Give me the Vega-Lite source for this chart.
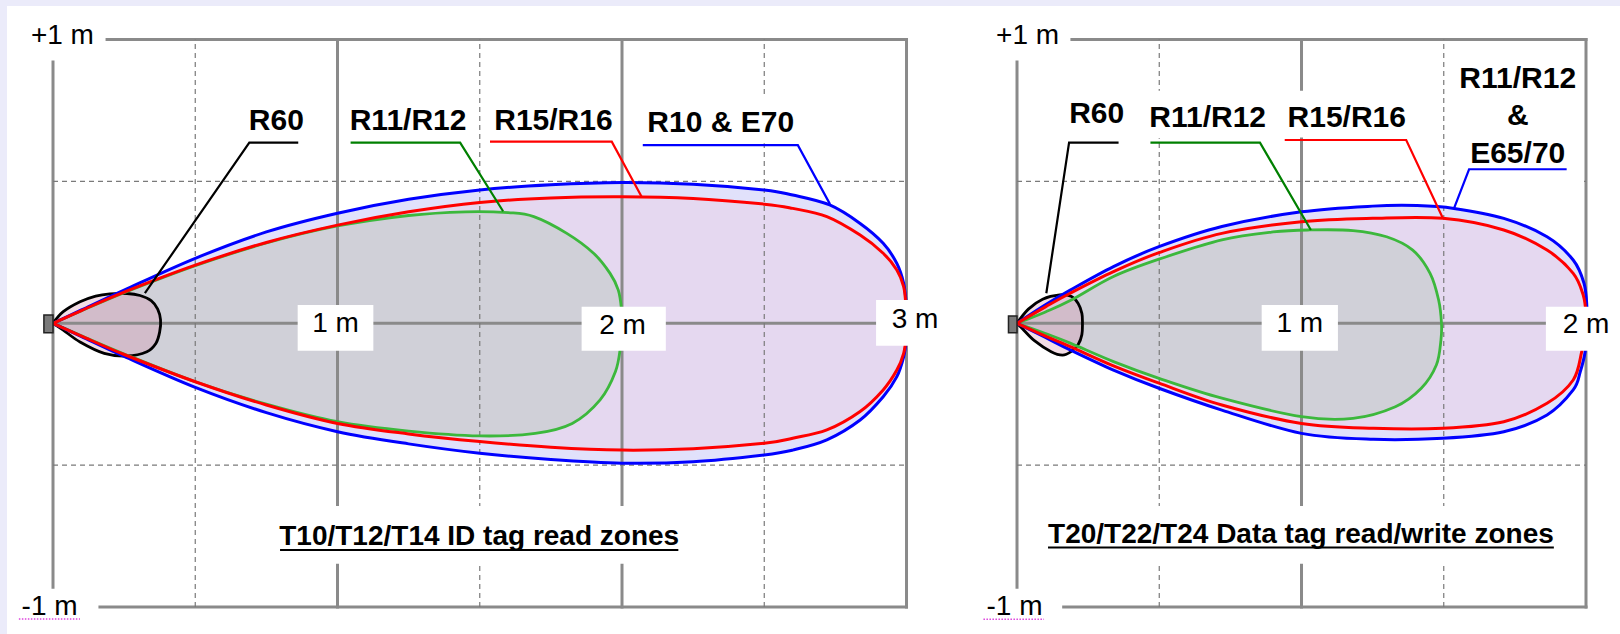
{
"$schema": "https://vega.github.io/schema/vega-lite/v6.json",
"background": "#ebebfa",
"padding": {"left": 7, "top": 6, "right": 0, "bottom": 0},
"config": {"view": {"stroke": null, "fill": "white"}},
"spacing": 0,
"bounds": "flush",
"datasets": {
"curves": [
{"p":"L","z":"blue","i":0,"x":0,"y":0},{"p":"L","z":"blue","i":1,"x":0.1,"y":0.047},{"p":"L","z":"blue","i":2,"x":0.25,"y":0.117},{"p":"L","z":"blue","i":3,"x":0.5,"y":0.229},{"p":"L","z":"blue","i":4,"x":0.75,"y":0.322},{"p":"L","z":"blue","i":5,"x":1.0,"y":0.388},{"p":"L","z":"blue","i":6,"x":1.25,"y":0.437},{"p":"L","z":"blue","i":7,"x":1.5,"y":0.47},{"p":"L","z":"blue","i":8,"x":1.75,"y":0.488},{"p":"L","z":"blue","i":9,"x":2.0,"y":0.496},{"p":"L","z":"blue","i":10,"x":2.25,"y":0.49},{"p":"L","z":"blue","i":11,"x":2.5,"y":0.47},{"p":"L","z":"blue","i":12,"x":2.6,"y":0.452},{"p":"L","z":"blue","i":13,"x":2.73,"y":0.417},{"p":"L","z":"blue","i":14,"x":2.837,"y":0.352},{"p":"L","z":"blue","i":15,"x":2.918,"y":0.282},{"p":"L","z":"blue","i":16,"x":2.966,"y":0.211},{"p":"L","z":"blue","i":17,"x":2.99,"y":0.141},{"p":"L","z":"blue","i":18,"x":2.999,"y":0.07},{"p":"L","z":"blue","i":19,"x":3.002,"y":0},{"p":"L","z":"blue","i":20,"x":2.999,"y":-0.06},{"p":"L","z":"blue","i":21,"x":2.99,"y":-0.118},{"p":"L","z":"blue","i":22,"x":2.966,"y":-0.188},{"p":"L","z":"blue","i":23,"x":2.918,"y":-0.259},{"p":"L","z":"blue","i":24,"x":2.837,"y":-0.341},{"p":"L","z":"blue","i":25,"x":2.72,"y":-0.411},{"p":"L","z":"blue","i":26,"x":2.6,"y":-0.447},{"p":"L","z":"blue","i":27,"x":2.5,"y":-0.464},{"p":"L","z":"blue","i":28,"x":2.25,"y":-0.488},{"p":"L","z":"blue","i":29,"x":2.0,"y":-0.493},{"p":"L","z":"blue","i":30,"x":1.75,"y":-0.48},{"p":"L","z":"blue","i":31,"x":1.5,"y":-0.458},{"p":"L","z":"blue","i":32,"x":1.25,"y":-0.425},{"p":"L","z":"blue","i":33,"x":1.0,"y":-0.382},{"p":"L","z":"blue","i":34,"x":0.75,"y":-0.315},{"p":"L","z":"blue","i":35,"x":0.5,"y":-0.226},{"p":"L","z":"blue","i":36,"x":0.25,"y":-0.117},{"p":"L","z":"blue","i":37,"x":0.1,"y":-0.047},{"p":"L","z":"blue","i":38,"x":0,"y":0},
{"p":"L","z":"red","i":0,"x":0,"y":0},{"p":"L","z":"red","i":1,"x":0.1,"y":0.045},{"p":"L","z":"red","i":2,"x":0.25,"y":0.11},{"p":"L","z":"red","i":3,"x":0.5,"y":0.205},{"p":"L","z":"red","i":4,"x":0.75,"y":0.285},{"p":"L","z":"red","i":5,"x":1.0,"y":0.346},{"p":"L","z":"red","i":6,"x":1.25,"y":0.393},{"p":"L","z":"red","i":7,"x":1.5,"y":0.426},{"p":"L","z":"red","i":8,"x":1.75,"y":0.442},{"p":"L","z":"red","i":9,"x":2.0,"y":0.446},{"p":"L","z":"red","i":10,"x":2.25,"y":0.44},{"p":"L","z":"red","i":11,"x":2.5,"y":0.42},{"p":"L","z":"red","i":12,"x":2.6,"y":0.405},{"p":"L","z":"red","i":13,"x":2.72,"y":0.376},{"p":"L","z":"red","i":14,"x":2.837,"y":0.311},{"p":"L","z":"red","i":15,"x":2.918,"y":0.247},{"p":"L","z":"red","i":16,"x":2.966,"y":0.188},{"p":"L","z":"red","i":17,"x":2.99,"y":0.129},{"p":"L","z":"red","i":18,"x":2.998,"y":0.06},{"p":"L","z":"red","i":19,"x":3.0,"y":0},{"p":"L","z":"red","i":20,"x":2.998,"y":-0.05},{"p":"L","z":"red","i":21,"x":2.99,"y":-0.106},{"p":"L","z":"red","i":22,"x":2.966,"y":-0.165},{"p":"L","z":"red","i":23,"x":2.918,"y":-0.235},{"p":"L","z":"red","i":24,"x":2.837,"y":-0.311},{"p":"L","z":"red","i":25,"x":2.72,"y":-0.376},{"p":"L","z":"red","i":26,"x":2.6,"y":-0.405},{"p":"L","z":"red","i":27,"x":2.5,"y":-0.423},{"p":"L","z":"red","i":28,"x":2.25,"y":-0.442},{"p":"L","z":"red","i":29,"x":2.0,"y":-0.447},{"p":"L","z":"red","i":30,"x":1.75,"y":-0.437},{"p":"L","z":"red","i":31,"x":1.5,"y":-0.417},{"p":"L","z":"red","i":32,"x":1.25,"y":-0.39},{"p":"L","z":"red","i":33,"x":1.0,"y":-0.353},{"p":"L","z":"red","i":34,"x":0.75,"y":-0.288},{"p":"L","z":"red","i":35,"x":0.5,"y":-0.206},{"p":"L","z":"red","i":36,"x":0.25,"y":-0.11},{"p":"L","z":"red","i":37,"x":0.1,"y":-0.045},{"p":"L","z":"red","i":38,"x":0,"y":0},
{"p":"L","z":"green","i":0,"x":0,"y":0},{"p":"L","z":"green","i":1,"x":0.1,"y":0.044},{"p":"L","z":"green","i":2,"x":0.25,"y":0.108},{"p":"L","z":"green","i":3,"x":0.5,"y":0.203},{"p":"L","z":"green","i":4,"x":0.75,"y":0.283},{"p":"L","z":"green","i":5,"x":1.0,"y":0.343},{"p":"L","z":"green","i":6,"x":1.25,"y":0.38},{"p":"L","z":"green","i":7,"x":1.45,"y":0.393},{"p":"L","z":"green","i":8,"x":1.6,"y":0.39},{"p":"L","z":"green","i":9,"x":1.69,"y":0.376},{"p":"L","z":"green","i":10,"x":1.806,"y":0.317},{"p":"L","z":"green","i":11,"x":1.9,"y":0.247},{"p":"L","z":"green","i":12,"x":1.958,"y":0.176},{"p":"L","z":"green","i":13,"x":1.987,"y":0.117},{"p":"L","z":"green","i":14,"x":1.998,"y":0.05},{"p":"L","z":"green","i":15,"x":2.0,"y":-0.02},{"p":"L","z":"green","i":16,"x":1.995,"y":-0.08},{"p":"L","z":"green","i":17,"x":1.977,"y":-0.17},{"p":"L","z":"green","i":18,"x":1.923,"y":-0.27},{"p":"L","z":"green","i":19,"x":1.825,"y":-0.353},{"p":"L","z":"green","i":20,"x":1.695,"y":-0.388},{"p":"L","z":"green","i":21,"x":1.5,"y":-0.397},{"p":"L","z":"green","i":22,"x":1.25,"y":-0.38},{"p":"L","z":"green","i":23,"x":1.0,"y":-0.347},{"p":"L","z":"green","i":24,"x":0.75,"y":-0.285},{"p":"L","z":"green","i":25,"x":0.5,"y":-0.206},{"p":"L","z":"green","i":26,"x":0.25,"y":-0.108},{"p":"L","z":"green","i":27,"x":0.1,"y":-0.044},{"p":"L","z":"green","i":28,"x":0,"y":0},
{"p":"L","z":"black","i":0,"x":0,"y":0},{"p":"L","z":"black","i":1,"x":0.036,"y":0.041},{"p":"L","z":"black","i":2,"x":0.095,"y":0.076},{"p":"L","z":"black","i":3,"x":0.15,"y":0.096},{"p":"L","z":"black","i":4,"x":0.2,"y":0.104},{"p":"L","z":"black","i":5,"x":0.26,"y":0.105},{"p":"L","z":"black","i":6,"x":0.306,"y":0.098},{"p":"L","z":"black","i":7,"x":0.345,"y":0.08},{"p":"L","z":"black","i":8,"x":0.368,"y":0.05},{"p":"L","z":"black","i":9,"x":0.378,"y":0.012},{"p":"L","z":"black","i":10,"x":0.375,"y":-0.03},{"p":"L","z":"black","i":11,"x":0.362,"y":-0.07},{"p":"L","z":"black","i":12,"x":0.33,"y":-0.1},{"p":"L","z":"black","i":13,"x":0.26,"y":-0.115},{"p":"L","z":"black","i":14,"x":0.18,"y":-0.106},{"p":"L","z":"black","i":15,"x":0.095,"y":-0.066},{"p":"L","z":"black","i":16,"x":0.036,"y":-0.024},{"p":"L","z":"black","i":17,"x":0,"y":0},
{"p":"R","z":"blue","i":0,"x":0,"y":0},{"p":"R","z":"blue","i":1,"x":0.1,"y":0.065},{"p":"R","z":"blue","i":2,"x":0.187,"y":0.117},{"p":"R","z":"blue","i":3,"x":0.339,"y":0.2},{"p":"R","z":"blue","i":4,"x":0.499,"y":0.27},{"p":"R","z":"blue","i":5,"x":0.72,"y":0.341},{"p":"R","z":"blue","i":6,"x":1.0,"y":0.393},{"p":"R","z":"blue","i":7,"x":1.25,"y":0.413},{"p":"R","z":"blue","i":8,"x":1.406,"y":0.415},{"p":"R","z":"blue","i":9,"x":1.536,"y":0.405},{"p":"R","z":"blue","i":10,"x":1.711,"y":0.37},{"p":"R","z":"blue","i":11,"x":1.863,"y":0.305},{"p":"R","z":"blue","i":12,"x":1.955,"y":0.223},{"p":"R","z":"blue","i":13,"x":1.993,"y":0.141},{"p":"R","z":"blue","i":14,"x":2.003,"y":0.059},{"p":"R","z":"blue","i":15,"x":2.003,"y":-0.02},{"p":"R","z":"blue","i":16,"x":1.997,"y":-0.1},{"p":"R","z":"blue","i":17,"x":1.98,"y":-0.17},{"p":"R","z":"blue","i":18,"x":1.955,"y":-0.235},{"p":"R","z":"blue","i":19,"x":1.863,"y":-0.323},{"p":"R","z":"blue","i":20,"x":1.711,"y":-0.382},{"p":"R","z":"blue","i":21,"x":1.497,"y":-0.405},{"p":"R","z":"blue","i":22,"x":1.253,"y":-0.409},{"p":"R","z":"blue","i":23,"x":1.0,"y":-0.388},{"p":"R","z":"blue","i":24,"x":0.72,"y":-0.306},{"p":"R","z":"blue","i":25,"x":0.499,"y":-0.229},{"p":"R","z":"blue","i":26,"x":0.339,"y":-0.165},{"p":"R","z":"blue","i":27,"x":0.187,"y":-0.094},{"p":"R","z":"blue","i":28,"x":0.1,"y":-0.05},{"p":"R","z":"blue","i":29,"x":0,"y":0},
{"p":"R","z":"red","i":0,"x":0,"y":0},{"p":"R","z":"red","i":1,"x":0.1,"y":0.058},{"p":"R","z":"red","i":2,"x":0.187,"y":0.106},{"p":"R","z":"red","i":3,"x":0.339,"y":0.182},{"p":"R","z":"red","i":4,"x":0.499,"y":0.249},{"p":"R","z":"red","i":5,"x":0.72,"y":0.317},{"p":"R","z":"red","i":6,"x":1.0,"y":0.358},{"p":"R","z":"red","i":7,"x":1.25,"y":0.37},{"p":"R","z":"red","i":8,"x":1.497,"y":0.37},{"p":"R","z":"red","i":9,"x":1.711,"y":0.329},{"p":"R","z":"red","i":10,"x":1.863,"y":0.258},{"p":"R","z":"red","i":11,"x":1.955,"y":0.176},{"p":"R","z":"red","i":12,"x":1.99,"y":0.1},{"p":"R","z":"red","i":13,"x":2.0,"y":0.03},{"p":"R","z":"red","i":14,"x":1.998,"y":-0.03},{"p":"R","z":"red","i":15,"x":1.985,"y":-0.1},{"p":"R","z":"red","i":16,"x":1.955,"y":-0.2},{"p":"R","z":"red","i":17,"x":1.863,"y":-0.282},{"p":"R","z":"red","i":18,"x":1.711,"y":-0.347},{"p":"R","z":"red","i":19,"x":1.497,"y":-0.37},{"p":"R","z":"red","i":20,"x":1.253,"y":-0.37},{"p":"R","z":"red","i":21,"x":1.0,"y":-0.353},{"p":"R","z":"red","i":22,"x":0.72,"y":-0.288},{"p":"R","z":"red","i":23,"x":0.499,"y":-0.211},{"p":"R","z":"red","i":24,"x":0.339,"y":-0.15},{"p":"R","z":"red","i":25,"x":0.187,"y":-0.082},{"p":"R","z":"red","i":26,"x":0.1,"y":-0.045},{"p":"R","z":"red","i":27,"x":0,"y":0},
{"p":"R","z":"green","i":0,"x":0,"y":0},{"p":"R","z":"green","i":1,"x":0.1,"y":0.04},{"p":"R","z":"green","i":2,"x":0.187,"y":0.08},{"p":"R","z":"green","i":3,"x":0.339,"y":0.165},{"p":"R","z":"green","i":4,"x":0.499,"y":0.226},{"p":"R","z":"green","i":5,"x":0.72,"y":0.294},{"p":"R","z":"green","i":6,"x":0.9,"y":0.322},{"p":"R","z":"green","i":7,"x":1.028,"y":0.329},{"p":"R","z":"green","i":8,"x":1.181,"y":0.327},{"p":"R","z":"green","i":9,"x":1.299,"y":0.305},{"p":"R","z":"green","i":10,"x":1.391,"y":0.258},{"p":"R","z":"green","i":11,"x":1.452,"y":0.176},{"p":"R","z":"green","i":12,"x":1.482,"y":0.082},{"p":"R","z":"green","i":13,"x":1.492,"y":0},{"p":"R","z":"green","i":14,"x":1.49,"y":-0.06},{"p":"R","z":"green","i":15,"x":1.474,"y":-0.147},{"p":"R","z":"green","i":16,"x":1.421,"y":-0.229},{"p":"R","z":"green","i":17,"x":1.33,"y":-0.294},{"p":"R","z":"green","i":18,"x":1.181,"y":-0.335},{"p":"R","z":"green","i":19,"x":1.0,"y":-0.329},{"p":"R","z":"green","i":20,"x":0.72,"y":-0.264},{"p":"R","z":"green","i":21,"x":0.499,"y":-0.194},{"p":"R","z":"green","i":22,"x":0.339,"y":-0.135},{"p":"R","z":"green","i":23,"x":0.187,"y":-0.07},{"p":"R","z":"green","i":24,"x":0.1,"y":-0.036},{"p":"R","z":"green","i":25,"x":0,"y":0},
{"p":"R","z":"black","i":0,"x":0,"y":0},{"p":"R","z":"black","i":1,"x":0.04,"y":0.05},{"p":"R","z":"black","i":2,"x":0.09,"y":0.085},{"p":"R","z":"black","i":3,"x":0.15,"y":0.1},{"p":"R","z":"black","i":4,"x":0.19,"y":0.095},{"p":"R","z":"black","i":5,"x":0.215,"y":0.07},{"p":"R","z":"black","i":6,"x":0.228,"y":0.035},{"p":"R","z":"black","i":7,"x":0.23,"y":0},{"p":"R","z":"black","i":8,"x":0.228,"y":-0.04},{"p":"R","z":"black","i":9,"x":0.215,"y":-0.075},{"p":"R","z":"black","i":10,"x":0.19,"y":-0.1},{"p":"R","z":"black","i":11,"x":0.16,"y":-0.112},{"p":"R","z":"black","i":12,"x":0.12,"y":-0.1},{"p":"R","z":"black","i":13,"x":0.06,"y":-0.06},{"p":"R","z":"black","i":14,"x":0.02,"y":-0.02},{"p":"R","z":"black","i":15,"x":0,"y":0}
],
"grid": [
{"p":"L","k":"s","x":0,"y":-0.93,"x2":0,"y2":0.921},{"p":"L","k":"s","x":1,"y":-1,"x2":1,"y2":1},{"p":"L","k":"s","x":2,"y":-1,"x2":2,"y2":1},{"p":"L","k":"s","x":3,"y":-1,"x2":3,"y2":1},{"p":"L","k":"s","x":0.19,"y":1,"x2":3,"y2":1},{"p":"L","k":"s","x":0.165,"y":-1,"x2":3,"y2":-1},{"p":"L","k":"s","x":0,"y":0,"x2":3,"y2":0},
{"p":"L","k":"d","x":0.5,"y":-1,"x2":0.5,"y2":1},{"p":"L","k":"d","x":1.5,"y":-1,"x2":1.5,"y2":1},{"p":"L","k":"d","x":2.5,"y":-1,"x2":2.5,"y2":1},{"p":"L","k":"d","x":0,"y":0.5,"x2":3,"y2":0.5},{"p":"L","k":"d","x":0,"y":-0.5,"x2":3,"y2":-0.5},
{"p":"L","k":"u","x":0.798,"y":-0.799,"x2":2.198,"y2":-0.799},{"p":"L","k":"m","x":-0.12,"y":-1.042,"x2":0.095,"y2":-1.042},
{"p":"R","k":"s","x":0,"y":-0.93,"x2":0,"y2":0.921},{"p":"R","k":"s","x":1,"y":-1,"x2":1,"y2":1},{"p":"R","k":"s","x":2,"y":-1,"x2":2,"y2":1},{"p":"R","k":"s","x":0.193,"y":1,"x2":2,"y2":1},{"p":"R","k":"s","x":0.164,"y":-1,"x2":2,"y2":-1},{"p":"R","k":"s","x":0,"y":0,"x2":2,"y2":0},
{"p":"R","k":"d","x":0.5,"y":-1,"x2":0.5,"y2":1},{"p":"R","k":"d","x":1.5,"y":-1,"x2":1.5,"y2":1},{"p":"R","k":"d","x":0,"y":0.5,"x2":2,"y2":0.5},{"p":"R","k":"d","x":0,"y":-0.5,"x2":2,"y2":-0.5},
{"p":"R","k":"u","x":0.109,"y":-0.79,"x2":1.887,"y2":-0.79},{"p":"R","k":"m","x":-0.118,"y":-1.043,"x2":0.095,"y2":-1.043}
],
"boxes": [
{"p":"L","x":0.86,"x2":1.126,"y":-0.0966,"y2":0.0645},{"p":"L","x":1.858,"x2":2.154,"y":-0.0966,"y2":0.0585},{"p":"L","x":2.893,"x2":3.17,"y":-0.079,"y2":0.082},{"p":"L","x":0.763,"x2":2.239,"y":-0.848,"y2":-0.644},{"p":"L","x":2.063,"x2":2.626,"y":0.635,"y2":0.797},
{"p":"R","x":0.86,"x2":1.128,"y":-0.0966,"y2":0.0645},{"p":"R","x":1.859,"x2":2.119,"y":-0.0966,"y2":0.0585},{"p":"R","x":0.08,"x2":1.92,"y":-0.848,"y2":-0.644},{"p":"R","x":0.45,"x2":0.89,"y":0.652,"y2":0.82},{"p":"R","x":0.94,"x2":1.375,"y":0.655,"y2":0.82},{"p":"R","x":1.522,"x2":1.979,"y":0.495,"y2":0.928}
],
"origin": [
{"p":"L","x":-0.032,"x2":0,"y":-0.033,"y2":0.029},{"p":"R","x":-0.03,"x2":0,"y":-0.033,"y2":0.026}
],
"leaders": [
{"p":"L","z":"black","i":0,"x":0.862,"y":0.637},{"p":"L","z":"black","i":1,"x":0.69,"y":0.637},{"p":"L","z":"black","i":2,"x":0.323,"y":0.106},
{"p":"L","z":"green","i":0,"x":1.046,"y":0.637},{"p":"L","z":"green","i":1,"x":1.431,"y":0.637},{"p":"L","z":"green","i":2,"x":1.582,"y":0.395},
{"p":"L","z":"red","i":0,"x":1.536,"y":0.64},{"p":"L","z":"red","i":1,"x":1.964,"y":0.64},{"p":"L","z":"red","i":2,"x":2.069,"y":0.446},
{"p":"L","z":"blue","i":0,"x":2.073,"y":0.628},{"p":"L","z":"blue","i":1,"x":2.618,"y":0.628},{"p":"L","z":"blue","i":2,"x":2.731,"y":0.42},
{"p":"R","z":"black","i":0,"x":0.357,"y":0.637},{"p":"R","z":"black","i":1,"x":0.183,"y":0.637},{"p":"R","z":"black","i":2,"x":0.103,"y":0.106},
{"p":"R","z":"green","i":0,"x":0.469,"y":0.637},{"p":"R","z":"green","i":1,"x":0.854,"y":0.637},{"p":"R","z":"green","i":2,"x":1.033,"y":0.329},
{"p":"R","z":"red","i":0,"x":0.941,"y":0.646},{"p":"R","z":"red","i":1,"x":1.368,"y":0.646},{"p":"R","z":"red","i":2,"x":1.497,"y":0.37},
{"p":"R","z":"blue","i":0,"x":1.932,"y":0.543},{"p":"R","z":"blue","i":1,"x":1.589,"y":0.543},{"p":"R","z":"blue","i":2,"x":1.536,"y":0.405}
],
"labels": [
{"p":"L","k":"b","t":"R60","x":0.785,"y":0.681},{"p":"L","k":"b","t":"R11/R12","x":1.248,"y":0.681},{"p":"L","k":"b","t":"R15/R16","x":1.759,"y":0.681},{"p":"L","k":"b","t":"R10 & E70","x":2.347,"y":0.675},
{"p":"L","k":"a","t":"+1 m","x":0.033,"y":0.985},{"p":"L","k":"a","t":"-1 m","x":-0.012,"y":-1.028},{"p":"L","k":"a","t":"1 m","x":0.993,"y":-0.03},{"p":"L","k":"a","t":"2 m","x":2.002,"y":-0.038},{"p":"L","k":"a","t":"3 m","x":3.03,"y":-0.018},
{"p":"L","k":"t","t":"T10/T12/T14 ID tag read zones","x":1.498,"y":-0.781},
{"p":"R","k":"b","t":"R60","x":0.28,"y":0.705},{"p":"R","k":"b","t":"R11/R12","x":0.67,"y":0.693},{"p":"R","k":"b","t":"R15/R16","x":1.159,"y":0.691},{"p":"R","k":"b","t":"R11/R12","x":1.76,"y":0.828},{"p":"R","k":"b","t":"&","x":1.76,"y":0.699},{"p":"R","k":"b","t":"E65/70","x":1.76,"y":0.564},
{"p":"R","k":"a","t":"+1 m","x":0.037,"y":0.985},{"p":"R","k":"a","t":"-1 m","x":-0.009,"y":-1.028},{"p":"R","k":"a","t":"1 m","x":0.994,"y":-0.03},{"p":"R","k":"a","t":"2 m","x":2.0,"y":-0.035},
{"p":"R","k":"t","t":"T20/T22/T24 Data tag read/write zones","x":0.998,"y":-0.775}
]
},
"hconcat": [
{
"width": 953, "height": 628,
"encoding": {
"x": {"field":"x","type":"quantitative","scale":{"domain":[-0.1617,3.188],"nice":false,"zero":false},"axis":null},
"y": {"field":"y","type":"quantitative","scale":{"domain":[-1.0952,1.1184],"nice":false,"zero":false},"axis":null}
},
"layer": [
{"data":{"name":"curves"},"transform":[{"filter":"datum.p=='L' && datum.z=='blue'"}],"mark":{"type":"line","interpolate":"cardinal","filled":true,"color":"#e1e1fb"},"encoding":{"order":{"field":"i","type":"quantitative"}}},
{"data":{"name":"curves"},"transform":[{"filter":"datum.p=='L' && datum.z=='red'"}],"mark":{"type":"line","interpolate":"cardinal","filled":true,"color":"#e5d8f0"},"encoding":{"order":{"field":"i","type":"quantitative"}}},
{"data":{"name":"curves"},"transform":[{"filter":"datum.p=='L' && datum.z=='green'"}],"mark":{"type":"line","interpolate":"cardinal","filled":true,"color":"#d0d0d8"},"encoding":{"order":{"field":"i","type":"quantitative"}}},
{"data":{"name":"curves"},"transform":[{"filter":"datum.p=='L' && datum.z=='black'"}],"mark":{"type":"line","interpolate":"cardinal","filled":true,"color":"#d890a8","opacity":0.3},"encoding":{"order":{"field":"i","type":"quantitative"}}},
{"data":{"name":"grid"},"transform":[{"filter":"datum.p=='L' && datum.k=='s'"}],"mark":{"type":"rule","color":"#8a8a8a","strokeWidth":3,"strokeCap":"square"},"encoding":{"x2":{"field":"x2"},"y2":{"field":"y2"}}},
{"data":{"name":"grid"},"transform":[{"filter":"datum.p=='L' && datum.k=='d'"}],"mark":{"type":"rule","color":"#7a7a7a","strokeWidth":1.2,"strokeDash":[5,4]},"encoding":{"x2":{"field":"x2"},"y2":{"field":"y2"}}},
{"data":{"name":"curves"},"transform":[{"filter":"datum.p=='L' && datum.z=='black'"}],"mark":{"type":"line","interpolate":"cardinal","color":"#000000","strokeWidth":2.8},"encoding":{"order":{"field":"i","type":"quantitative"}}},
{"data":{"name":"curves"},"transform":[{"filter":"datum.p=='L' && datum.z=='green'"}],"mark":{"type":"line","interpolate":"cardinal","color":"#3cb83c","strokeWidth":2.8},"encoding":{"order":{"field":"i","type":"quantitative"}}},
{"data":{"name":"curves"},"transform":[{"filter":"datum.p=='L' && datum.z=='blue'"}],"mark":{"type":"line","interpolate":"cardinal","color":"#0000ff","strokeWidth":3},"encoding":{"order":{"field":"i","type":"quantitative"}}},
{"data":{"name":"curves"},"transform":[{"filter":"datum.p=='L' && datum.z=='red'"}],"mark":{"type":"line","interpolate":"cardinal","color":"#ff0000","strokeWidth":3},"encoding":{"order":{"field":"i","type":"quantitative"}}},
{"data":{"name":"boxes"},"transform":[{"filter":"datum.p=='L'"}],"mark":{"type":"rect","color":"#ffffff"},"encoding":{"x2":{"field":"x2"},"y2":{"field":"y2"}}},
{"data":{"name":"leaders"},"transform":[{"filter":"datum.p=='L'"}],"mark":{"type":"line","strokeWidth":2.2},"encoding":{"order":{"field":"i","type":"quantitative"},"color":{"field":"z","type":"nominal","scale":{"domain":["black","green","red","blue"],"range":["#000000","#008000","#ff0000","#0000ff"]},"legend":null}}},
{"data":{"name":"grid"},"transform":[{"filter":"datum.p=='L' && datum.k=='u'"}],"mark":{"type":"rule","color":"#000000","strokeWidth":2},"encoding":{"x2":{"field":"x2"},"y2":{"field":"y2"}}},
{"data":{"name":"grid"},"transform":[{"filter":"datum.p=='L' && datum.k=='m'"}],"mark":{"type":"rule","color":"#dd44dd","strokeWidth":1.5,"strokeDash":[1.5,1.5]},"encoding":{"x2":{"field":"x2"},"y2":{"field":"y2"}}},
{"data":{"name":"origin"},"transform":[{"filter":"datum.p=='L'"}],"mark":{"type":"rect","fill":"#7a7a7a","stroke":"#222222","strokeWidth":1.5},"encoding":{"x2":{"field":"x2"},"y2":{"field":"y2"}}},
{"data":{"name":"labels"},"transform":[{"filter":"datum.p=='L' && datum.k=='b'"}],"mark":{"type":"text","font":"Liberation Sans","fontWeight":"bold","fontSize":30,"align":"center","baseline":"alphabetic","color":"#000000"},"encoding":{"text":{"field":"t"}}},
{"data":{"name":"labels"},"transform":[{"filter":"datum.p=='L' && datum.k=='a'"}],"mark":{"type":"text","font":"Liberation Sans","fontSize":28,"align":"center","baseline":"alphabetic","color":"#000000"},"encoding":{"text":{"field":"t"}}},
{"data":{"name":"labels"},"transform":[{"filter":"datum.p=='L' && datum.k=='t'"}],"mark":{"type":"text","font":"Liberation Sans","fontWeight":"bold","fontSize":28,"align":"center","baseline":"alphabetic","color":"#000000"},"encoding":{"text":{"field":"t"}}}
]
},
{
"width": 660, "height": 628,
"encoding": {
"x": {"field":"x","type":"quantitative","scale":{"domain":[-0.2004,2.1195],"nice":false,"zero":false},"axis":null},
"y": {"field":"y","type":"quantitative","scale":{"domain":[-1.0952,1.1184],"nice":false,"zero":false},"axis":null}
},
"layer": [
{"data":{"name":"curves"},"transform":[{"filter":"datum.p=='R' && datum.z=='blue'"}],"mark":{"type":"line","interpolate":"cardinal","filled":true,"color":"#e1e1fb"},"encoding":{"order":{"field":"i","type":"quantitative"}}},
{"data":{"name":"curves"},"transform":[{"filter":"datum.p=='R' && datum.z=='red'"}],"mark":{"type":"line","interpolate":"cardinal","filled":true,"color":"#e5d8f0"},"encoding":{"order":{"field":"i","type":"quantitative"}}},
{"data":{"name":"curves"},"transform":[{"filter":"datum.p=='R' && datum.z=='green'"}],"mark":{"type":"line","interpolate":"cardinal","filled":true,"color":"#d0d0d8"},"encoding":{"order":{"field":"i","type":"quantitative"}}},
{"data":{"name":"curves"},"transform":[{"filter":"datum.p=='R' && datum.z=='black'"}],"mark":{"type":"line","interpolate":"cardinal","filled":true,"color":"#d890a8","opacity":0.3},"encoding":{"order":{"field":"i","type":"quantitative"}}},
{"data":{"name":"grid"},"transform":[{"filter":"datum.p=='R' && datum.k=='s'"}],"mark":{"type":"rule","color":"#8a8a8a","strokeWidth":3,"strokeCap":"square"},"encoding":{"x2":{"field":"x2"},"y2":{"field":"y2"}}},
{"data":{"name":"grid"},"transform":[{"filter":"datum.p=='R' && datum.k=='d'"}],"mark":{"type":"rule","color":"#7a7a7a","strokeWidth":1.2,"strokeDash":[5,4]},"encoding":{"x2":{"field":"x2"},"y2":{"field":"y2"}}},
{"data":{"name":"curves"},"transform":[{"filter":"datum.p=='R' && datum.z=='black'"}],"mark":{"type":"line","interpolate":"cardinal","color":"#000000","strokeWidth":2.8},"encoding":{"order":{"field":"i","type":"quantitative"}}},
{"data":{"name":"curves"},"transform":[{"filter":"datum.p=='R' && datum.z=='green'"}],"mark":{"type":"line","interpolate":"cardinal","color":"#3cb83c","strokeWidth":2.8},"encoding":{"order":{"field":"i","type":"quantitative"}}},
{"data":{"name":"curves"},"transform":[{"filter":"datum.p=='R' && datum.z=='blue'"}],"mark":{"type":"line","interpolate":"cardinal","color":"#0000ff","strokeWidth":3},"encoding":{"order":{"field":"i","type":"quantitative"}}},
{"data":{"name":"curves"},"transform":[{"filter":"datum.p=='R' && datum.z=='red'"}],"mark":{"type":"line","interpolate":"cardinal","color":"#ff0000","strokeWidth":3},"encoding":{"order":{"field":"i","type":"quantitative"}}},
{"data":{"name":"boxes"},"transform":[{"filter":"datum.p=='R'"}],"mark":{"type":"rect","color":"#ffffff"},"encoding":{"x2":{"field":"x2"},"y2":{"field":"y2"}}},
{"data":{"name":"leaders"},"transform":[{"filter":"datum.p=='R'"}],"mark":{"type":"line","strokeWidth":2.2},"encoding":{"order":{"field":"i","type":"quantitative"},"color":{"field":"z","type":"nominal","scale":{"domain":["black","green","red","blue"],"range":["#000000","#008000","#ff0000","#0000ff"]},"legend":null}}},
{"data":{"name":"grid"},"transform":[{"filter":"datum.p=='R' && datum.k=='u'"}],"mark":{"type":"rule","color":"#000000","strokeWidth":2},"encoding":{"x2":{"field":"x2"},"y2":{"field":"y2"}}},
{"data":{"name":"grid"},"transform":[{"filter":"datum.p=='R' && datum.k=='m'"}],"mark":{"type":"rule","color":"#dd44dd","strokeWidth":1.5,"strokeDash":[1.5,1.5]},"encoding":{"x2":{"field":"x2"},"y2":{"field":"y2"}}},
{"data":{"name":"origin"},"transform":[{"filter":"datum.p=='R'"}],"mark":{"type":"rect","fill":"#7a7a7a","stroke":"#222222","strokeWidth":1.5},"encoding":{"x2":{"field":"x2"},"y2":{"field":"y2"}}},
{"data":{"name":"labels"},"transform":[{"filter":"datum.p=='R' && datum.k=='b'"}],"mark":{"type":"text","font":"Liberation Sans","fontWeight":"bold","fontSize":30,"align":"center","baseline":"alphabetic","color":"#000000"},"encoding":{"text":{"field":"t"}}},
{"data":{"name":"labels"},"transform":[{"filter":"datum.p=='R' && datum.k=='a'"}],"mark":{"type":"text","font":"Liberation Sans","fontSize":28,"align":"center","baseline":"alphabetic","color":"#000000"},"encoding":{"text":{"field":"t"}}},
{"data":{"name":"labels"},"transform":[{"filter":"datum.p=='R' && datum.k=='t'"}],"mark":{"type":"text","font":"Liberation Sans","fontWeight":"bold","fontSize":28,"align":"center","baseline":"alphabetic","color":"#000000"},"encoding":{"text":{"field":"t"}}}
]
}
]
}
